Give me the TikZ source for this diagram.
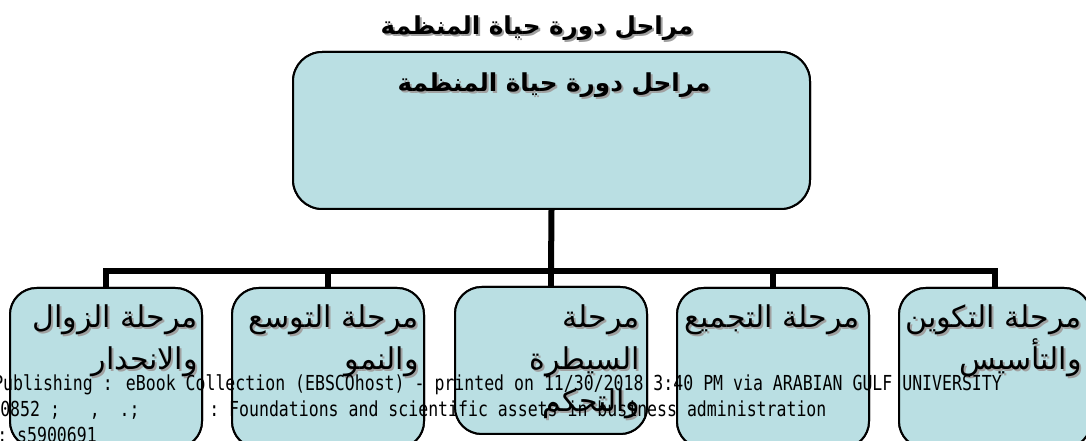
\documentclass[tikz,border=0pt]{standalone}
\usepackage{fontspec}
\TeXXeTstate=1
\newfontfamily\arabicfont[Script=Arabic]{DejaVu Sans}
\newfontfamily\wmfont{DejaVu Sans Mono}
\definecolor{boxfill}{RGB}{186,223,227}
\definecolor{shadowgray}{RGB}{160,160,160}
\tikzset{
  stagebox/.style={draw=black, line width=1.5pt, fill=boxfill, rounded corners=20pt, inner sep=0pt, minimum width=144pt},
  topbox/.style={draw=black, line width=1.5pt, fill=boxfill, rounded corners=22pt, inner sep=0pt, minimum width=387.75pt, minimum height=117.75pt},
  conn/.style={line width=4.5pt, draw=black},
  boxtext/.style={font=\arabicfont\fontsize{22.5}{31.5}\selectfont, align=right, inner sep=0pt, anchor=north east},
  titletext/.style={font=\arabicfont\bfseries\fontsize{18.5}{23}\selectfont, inner sep=0pt},
  wm/.style={font=\wmfont\fontsize{15.5}{18}\selectfont, anchor=base west, inner sep=0pt}
}
\newcommand\ar[1]{\beginR #1\endR}
\begin{document}
\begin{tikzpicture}[x=0.75pt,y=-0.75pt]
\useasboundingbox (0,0) rectangle (1086,441);
\clip (0,0) rectangle (1086,441);
% title
\node[titletext, text=shadowgray] (titles) at (539,30) {\ar{مراحل دورة حياة المنظمة}};
\node[titletext] (title) at (537,28) {\ar{مراحل دورة حياة المنظمة}};
% boxes geometry (for connectors)
\node[topbox] (top) at (551.5,130.5) {};
\node[stagebox, minimum height=120pt] (b1) at (106,368) {};
\node[stagebox, minimum height=120pt] (b2) at (328,368) {};
\node[stagebox, minimum height=110.25pt] (b3) at (551,360.5) {};
\node[stagebox, minimum height=120pt] (b4) at (773,368) {};
\node[stagebox, minimum height=120pt] (b5) at (995,368) {};
% connectors
\coordinate (hub) at (551,271);
\draw[conn] (top.south) -- (hub);
\draw[conn] (b1.north) |- (hub) -| (b5.north);
\draw[conn] (b2.north) -- (b2.north |- hub);
\draw[conn] (b3.north) -- (b3.north |- hub);
\draw[conn] (b4.north) -- (b4.north |- hub);
% redraw boxes over connector ends
\node[topbox] (topf) at (551.5,130.5) {};
\node[stagebox, minimum height=120pt] (b1f) at (106,368) {};
\node[stagebox, minimum height=120pt] (b2f) at (328,368) {};
\node[stagebox, minimum height=110.25pt] (b3f) at (551,360.5) {};
\node[stagebox, minimum height=120pt] (b4f) at (773,368) {};
\node[stagebox, minimum height=120pt] (b5f) at (995,368) {};
% inner title
\node[titletext, text=shadowgray] (intitles) at (556,87) {\ar{مراحل دورة حياة المنظمة}};
\node[titletext] (intitle) at (554,85) {\ar{مراحل دورة حياة المنظمة}};
% box texts
\node[boxtext, text=shadowgray] (t1s) at (200,306) {\ar{مرحلة الزوال}\\\ar{والانحدار}};
\node[boxtext] (t1) at (198,304) {\ar{مرحلة الزوال}\\\ar{والانحدار}};
\node[boxtext, text=shadowgray] (t2s) at (421,306) {\ar{مرحلة التوسع}\\\ar{والنمو}};
\node[boxtext] (t2) at (419,304) {\ar{مرحلة التوسع}\\\ar{والنمو}};
\node[boxtext, text=shadowgray] (t3s) at (642,306) {\ar{مرحلة}\\\ar{السيطرة}\\\ar{والتحكم}};
\node[boxtext] (t3) at (640,304) {\ar{مرحلة}\\\ar{السيطرة}\\\ar{والتحكم}};
\node[boxtext, text=shadowgray] (t4s) at (862,306) {\ar{مرحلة التجميع}};
\node[boxtext] (t4) at (860,304) {\ar{مرحلة التجميع}};
\node[boxtext, text=shadowgray] (t5s) at (1084,306) {\ar{مرحلة التكوين}\\\ar{والتأسيس}};
\node[boxtext] (t5) at (1082,304) {\ar{مرحلة التكوين}\\\ar{والتأسيس}};
% watermark
\node[wm] (wm1) at (-7,391) {\scalebox{0.8}[1]{Publishing : eBook Collection (EBSCOhost) - printed on 11/30/2018 3:40 PM via ARABIAN GULF UNIVERSITY}};
\node[wm] (wm2) at (0,417) {\scalebox{0.8}[1]{0852~;~~~,~~.;~~~~~~~:~Foundations and scientific assets in business administration}};
\node[wm] (wm3) at (-3,443) {\scalebox{0.8}[1]{:~s5900691}};
\end{tikzpicture}
\end{document}
